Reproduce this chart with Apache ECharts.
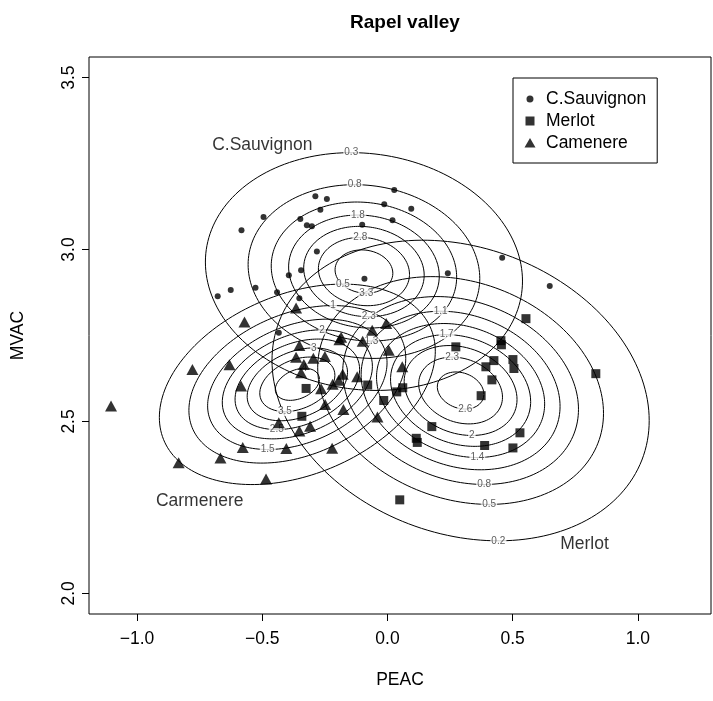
<!DOCTYPE html>
<html>
<head>
<meta charset="utf-8">
<script src="https://cdn.jsdelivr.net/npm/echarts@6/dist/echarts.min.js"></script>
<style>
html, body { margin: 0; padding: 0; background: #fff; }
#chart { width: 713px; height: 701px; }
</style>
</head>
<body>
<div id="chart"></div>
<script>
// points (PEAC, MVAC)
let sauvignonPoints = [
    [-0.583, 3.056], [-0.495, 3.095], [-0.288, 3.155], [-0.242, 3.147], [-0.268, 3.116],
    [-0.013, 3.132], [-0.348, 3.089], [-0.322, 3.071], [-0.302, 3.068], [-0.101, 3.072],
    [-0.282, 2.994], [-0.394, 2.925], [-0.345, 2.940], [-0.092, 2.915], [0.027, 3.173],
    [0.095, 3.119], [0.020, 3.085], [0.458, 2.976], [0.241, 2.931], [-0.678, 2.864],
    [-0.626, 2.882], [-0.527, 2.889], [-0.441, 2.876], [-0.352, 2.858], [-0.434, 2.758],
    [0.648, 2.894]
];
let merlotPoints = [
    [0.553, 2.799], [0.453, 2.735], [0.455, 2.723], [0.273, 2.717], [0.425, 2.677],
    [0.393, 2.659], [0.501, 2.680], [0.505, 2.654], [0.417, 2.621], [0.374, 2.575],
    [0.832, 2.639], [0.177, 2.485], [0.115, 2.451], [0.119, 2.439], [0.529, 2.467],
    [0.388, 2.430], [0.501, 2.423], [0.037, 2.586], [0.061, 2.598], [-0.015, 2.561],
    [0.049, 2.272], [-0.325, 2.596], [-0.342, 2.515], [-0.079, 2.606]
];
let camenerePoints = [
    [-1.104, 2.545], [-0.779, 2.651], [-0.571, 2.789], [-0.631, 2.665], [-0.585, 2.603],
    [-0.365, 2.830], [-0.352, 2.721], [-0.365, 2.687], [-0.334, 2.666], [-0.345, 2.642],
    [-0.296, 2.684], [-0.250, 2.689], [-0.192, 2.738], [-0.185, 2.745], [-0.099, 2.733],
    [-0.061, 2.765], [-0.005, 2.785], [-0.179, 2.637], [-0.121, 2.630], [-0.219, 2.608],
    [-0.195, 2.620], [-0.265, 2.595], [-0.249, 2.549], [-0.176, 2.535], [-0.040, 2.513],
    [-0.434, 2.496], [-0.352, 2.472], [-0.309, 2.486], [-0.578, 2.424], [-0.404, 2.421],
    [-0.221, 2.422], [-0.834, 2.380], [-0.667, 2.394], [-0.485, 2.333], [0.005, 2.707],
    [0.059, 2.659]
];

// density fits per group: C.Sauvignon, Merlot, Carmenere
let densityCenter = [[-0.094, 2.936], [0.292, 2.590], [-0.360, 2.608]];
let densitySd = [[0.2765, 0.151], [0.3196, 0.1855], [0.2665, 0.141]];
let densityRho = [-0.08, -0.2, 0.33];
let densityPeak = [3.7, 2.75, 4.3];
let tailDf = 6;

let contourLevels = [
    [0.3, 0.8, 1.3, 1.8, 2.3, 2.8, 3.3],
    [0.2, 0.5, 0.8, 1.1, 1.4, 1.7, 2, 2.3, 2.6],
    [0.5, 1, 1.5, 2, 2.5, 3, 3.5, 4]
];
let labelSides = [
    ['top', 'top', 'bottom', 'top', 'bottom', 'top', 'bottom'],
    ['bottom', 'bottom', 'bottom', 'top', 'bottom', 'top', 'bottom', 'top', 'bottom'],
    ['top', 'top', 'bottom', 'top', 'bottom', 'top', 'bottom', 'top']
];

let xTicks = [-1, -0.5, 0, 0.5, 1];
let yTicks = [2, 2.5, 3, 3.5];

let font = 'Liberation Sans, Arial, Helvetica, sans-serif';

function radius(g, level) {
    let q = tailDf * (Math.pow(densityPeak[g] / level, 2 / (tailDf + 2)) - 1);
    return Math.sqrt(q);
}

function contourLine(g, level) {
    let [mx, my] = densityCenter[g];
    let [sx, sy] = densitySd[g];
    let r = densityRho[g];
    let k = radius(g, level);
    let pts = [];
    for (let i = 0; i <= 180; i++) {
        let t = 2 * Math.PI * i / 180;
        let u = k * Math.cos(t), v = k * Math.sin(t);
        pts.push([mx + sx * u, my + sy * (r * u + Math.sqrt(1 - r * r) * v)]);
    }
    return pts;
}

function labelPoint(g, level, side) {
    let [mx, my] = densityCenter[g];
    let [sx, sy] = densitySd[g];
    let r = densityRho[g];
    let k = radius(g, level);
    let s = side === 'top' ? 1 : -1;
    return { value: [mx + s * sx * k * r, my + s * sy * k], name: String(level) };
}

let series = [];
contourLevels.forEach(function (levels, g) {
    levels.forEach(function (lv) {
        series.push({
            type: 'line',
            data: contourLine(g, lv),
            symbol: 'none',
            smooth: false,
            silent: true,
            lineStyle: { color: '#000', width: 1 },
            z: 2
        });
    });
});
contourLevels.forEach(function (levels, g) {
    series.push({
        type: 'scatter',
        data: levels.map(function (lv, i) { return labelPoint(g, lv, labelSides[g][i]); }),
        symbolSize: 1,
        itemStyle: { color: 'rgba(0,0,0,0)' },
        silent: true,
        z: 3,
        label: {
            show: true,
            position: 'inside',
            formatter: '{b}',
            fontSize: 10,
            color: '#333',
            backgroundColor: '#fff',
            padding: [0, 1],
            lineHeight: 9
        }
    });
});

series.push(
    { name: 'C.Sauvignon', type: 'scatter', data: sauvignonPoints, symbol: 'circle', symbolSize: 6,
      itemStyle: { color: '#000' }, z: 5 },
    { name: 'Merlot', type: 'scatter', data: merlotPoints, symbol: 'rect', symbolSize: 9,
      itemStyle: { color: '#000' }, z: 5 },
    { name: 'Camenere', type: 'scatter', data: camenerePoints, symbol: 'triangle', symbolSize: [12, 11],
      itemStyle: { color: '#000' }, z: 5 },
    {
        type: 'scatter',
        silent: true,
        symbolSize: 1,
        itemStyle: { color: 'rgba(0,0,0,0)' },
        z: 6,
        label: { show: true, position: 'inside', formatter: '{b}', fontSize: 17.5, color: '#000' },
        data: [
            { name: 'C.Sauvignon', value: [-0.50, 3.305] },
            { name: 'Carmenere', value: [-0.75, 2.267] },
            { name: 'Merlot', value: [0.787, 2.142] }
        ]
    }
);

let tickFmt = function (v) { return v.toFixed(1).replace('-', '\u2212'); };

// legend icons drawn inside a 12x12 box so their sizes differ like the plot symbols
let dotIcon = 'path://M0,0L0.01,0M12,12L11.99,12M6,2.5A3.5,3.5,0,1,1,5.99,2.5Z';
let squareIcon = 'path://M0,0L0.01,0M12,12L11.99,12M1.5,1.5H10.5V10.5H1.5Z';
let triIcon = 'path://M0,0L0.01,0M12,12L11.99,12M6,1L11.5,10.5H0.5Z';

let option = {
    animation: false,
    textStyle: { fontFamily: font },
    title: {
        text: 'Rapel valley',
        left: 400,
        top: 8,
        textAlign: 'center',
        textStyle: { fontSize: 19, fontWeight: 'bold', color: '#000', fontFamily: font }
    },
    legend: {
        left: 513,
        top: 78,
        orient: 'vertical',
        selectedMode: false,
        borderColor: '#000',
        borderWidth: 1,
        padding: [12, 11, 11, 11],
        itemGap: 4,
        itemWidth: 12,
        itemHeight: 12,
        textStyle: { fontSize: 17.5, color: '#000', padding: [0, 0, 0, 5], lineHeight: 17 },
        data: [
            { name: 'C.Sauvignon', icon: dotIcon },
            { name: 'Merlot', icon: squareIcon },
            { name: 'Camenere', icon: triIcon }
        ]
    },
    grid: {
        left: 89, right: 2, top: 57, bottom: 87,
        show: true, borderColor: '#000', borderWidth: 1
    },
    xAxis: {
        type: 'value',
        min: -1.192,
        max: 1.292,
        name: 'PEAC',
        nameLocation: 'middle',
        nameGap: 57,
        nameTextStyle: { fontSize: 17.5, color: '#000' },
        axisLine: { show: false, onZero: false },
        splitLine: { show: false },
        axisTick: { show: true, length: 7, customValues: xTicks, lineStyle: { color: '#000' } },
        axisLabel: { customValues: xTicks, formatter: tickFmt, fontSize: 17.5, color: '#000', margin: 16 }
    },
    yAxis: {
        type: 'value',
        min: 1.94,
        max: 3.56,
        name: 'MVAC',
        nameLocation: 'middle',
        nameGap: 62,
        nameTextStyle: { fontSize: 17.5, color: '#000' },
        axisLine: { show: false, onZero: false },
        splitLine: { show: false },
        axisTick: { show: true, length: 7, customValues: yTicks, lineStyle: { color: '#000' } },
        axisLabel: { customValues: yTicks, formatter: tickFmt, fontSize: 17.5, color: '#000', rotate: 90, margin: 11 }
    },
    series: series
};

let chart = echarts.init(document.getElementById('chart'));
chart.setOption(option);
</script>
</body>
</html>
